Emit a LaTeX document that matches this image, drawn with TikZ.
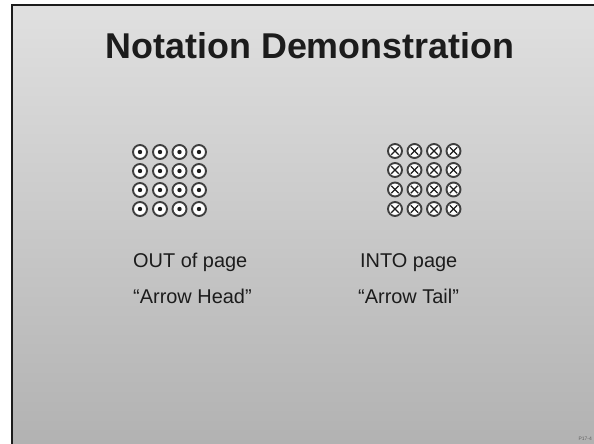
\documentclass[tikz,border=0pt]{standalone}
\usepackage{fontspec}
\setmainfont{Liberation Sans}
\definecolor{ink}{HTML}{1C1C1C}
\definecolor{bgtop}{HTML}{E0E0E0}
\definecolor{bgbot}{HTML}{B2B2B2}
\tikzset{
  ring/.style={circle, draw=ink!85, line width=1.9pt, fill=white, minimum size=14bp, inner sep=0pt},
  outsym/.style={ring, path picture={\fill[ink] (path picture bounding box.center) circle (2.2bp);}},
  insym/.style={ring, path picture={
      \draw[ink, line width=1.3pt] ([shift={(-3.7bp,-3.7bp)}]path picture bounding box.center) -- ([shift={(3.7bp,3.7bp)}]path picture bounding box.center);
      \draw[ink, line width=1.3pt] ([shift={(-3.7bp,3.7bp)}]path picture bounding box.center) -- ([shift={(3.7bp,-3.7bp)}]path picture bounding box.center);}},
  title/.style={font=\fontsize{36}{42}\selectfont\bfseries, text=ink, inner sep=0pt, anchor=base},
  body/.style={font=\fontsize{20}{24}\selectfont, text=ink, inner sep=0pt, anchor=base west},
}
\begin{document}
\begin{tikzpicture}[x=1bp,y=-1bp]
\useasboundingbox (0,0) rectangle (594,444);
\fill[white] (0,0) rectangle (594,444);
\shade[top color=bgtop, bottom color=bgbot] (12,5) rectangle (594,444);
\draw[ink, line width=2.2pt] (594,5) -- (12,5) -- (12,444);
\node[title] (t) at (310,59) {Notation Demonstration};
\foreach \c/\x in {1/140,2/160,3/179.5,4/199}{
  \foreach \r/\y in {1/152,2/171,3/190,4/209}{
    \node[outsym] (o-\r-\c) at (\x,\y) {};
  }
}
\foreach \c/\x in {1/395,2/414.5,3/434,4/453.5}{
  \foreach \r/\y in {1/151,2/170,3/189.5,4/209}{
    \node[insym] (i-\r-\c) at (\x,\y) {};
  }
}
\node[body] (l1) at (133,268) {OUT of page};
\node[body] (l2) at (133,303) {“Arrow Head”};
\node[body] (r1) at (360,268) {INTO page};
\node[body] (r2) at (358,303) {“Arrow Tail”};
\node[font=\fontsize{5}{6}\selectfont, text=ink!70, anchor=base east, inner sep=0pt] (pg) at (592,440) {P17-4};
\end{tikzpicture}
\end{document}
